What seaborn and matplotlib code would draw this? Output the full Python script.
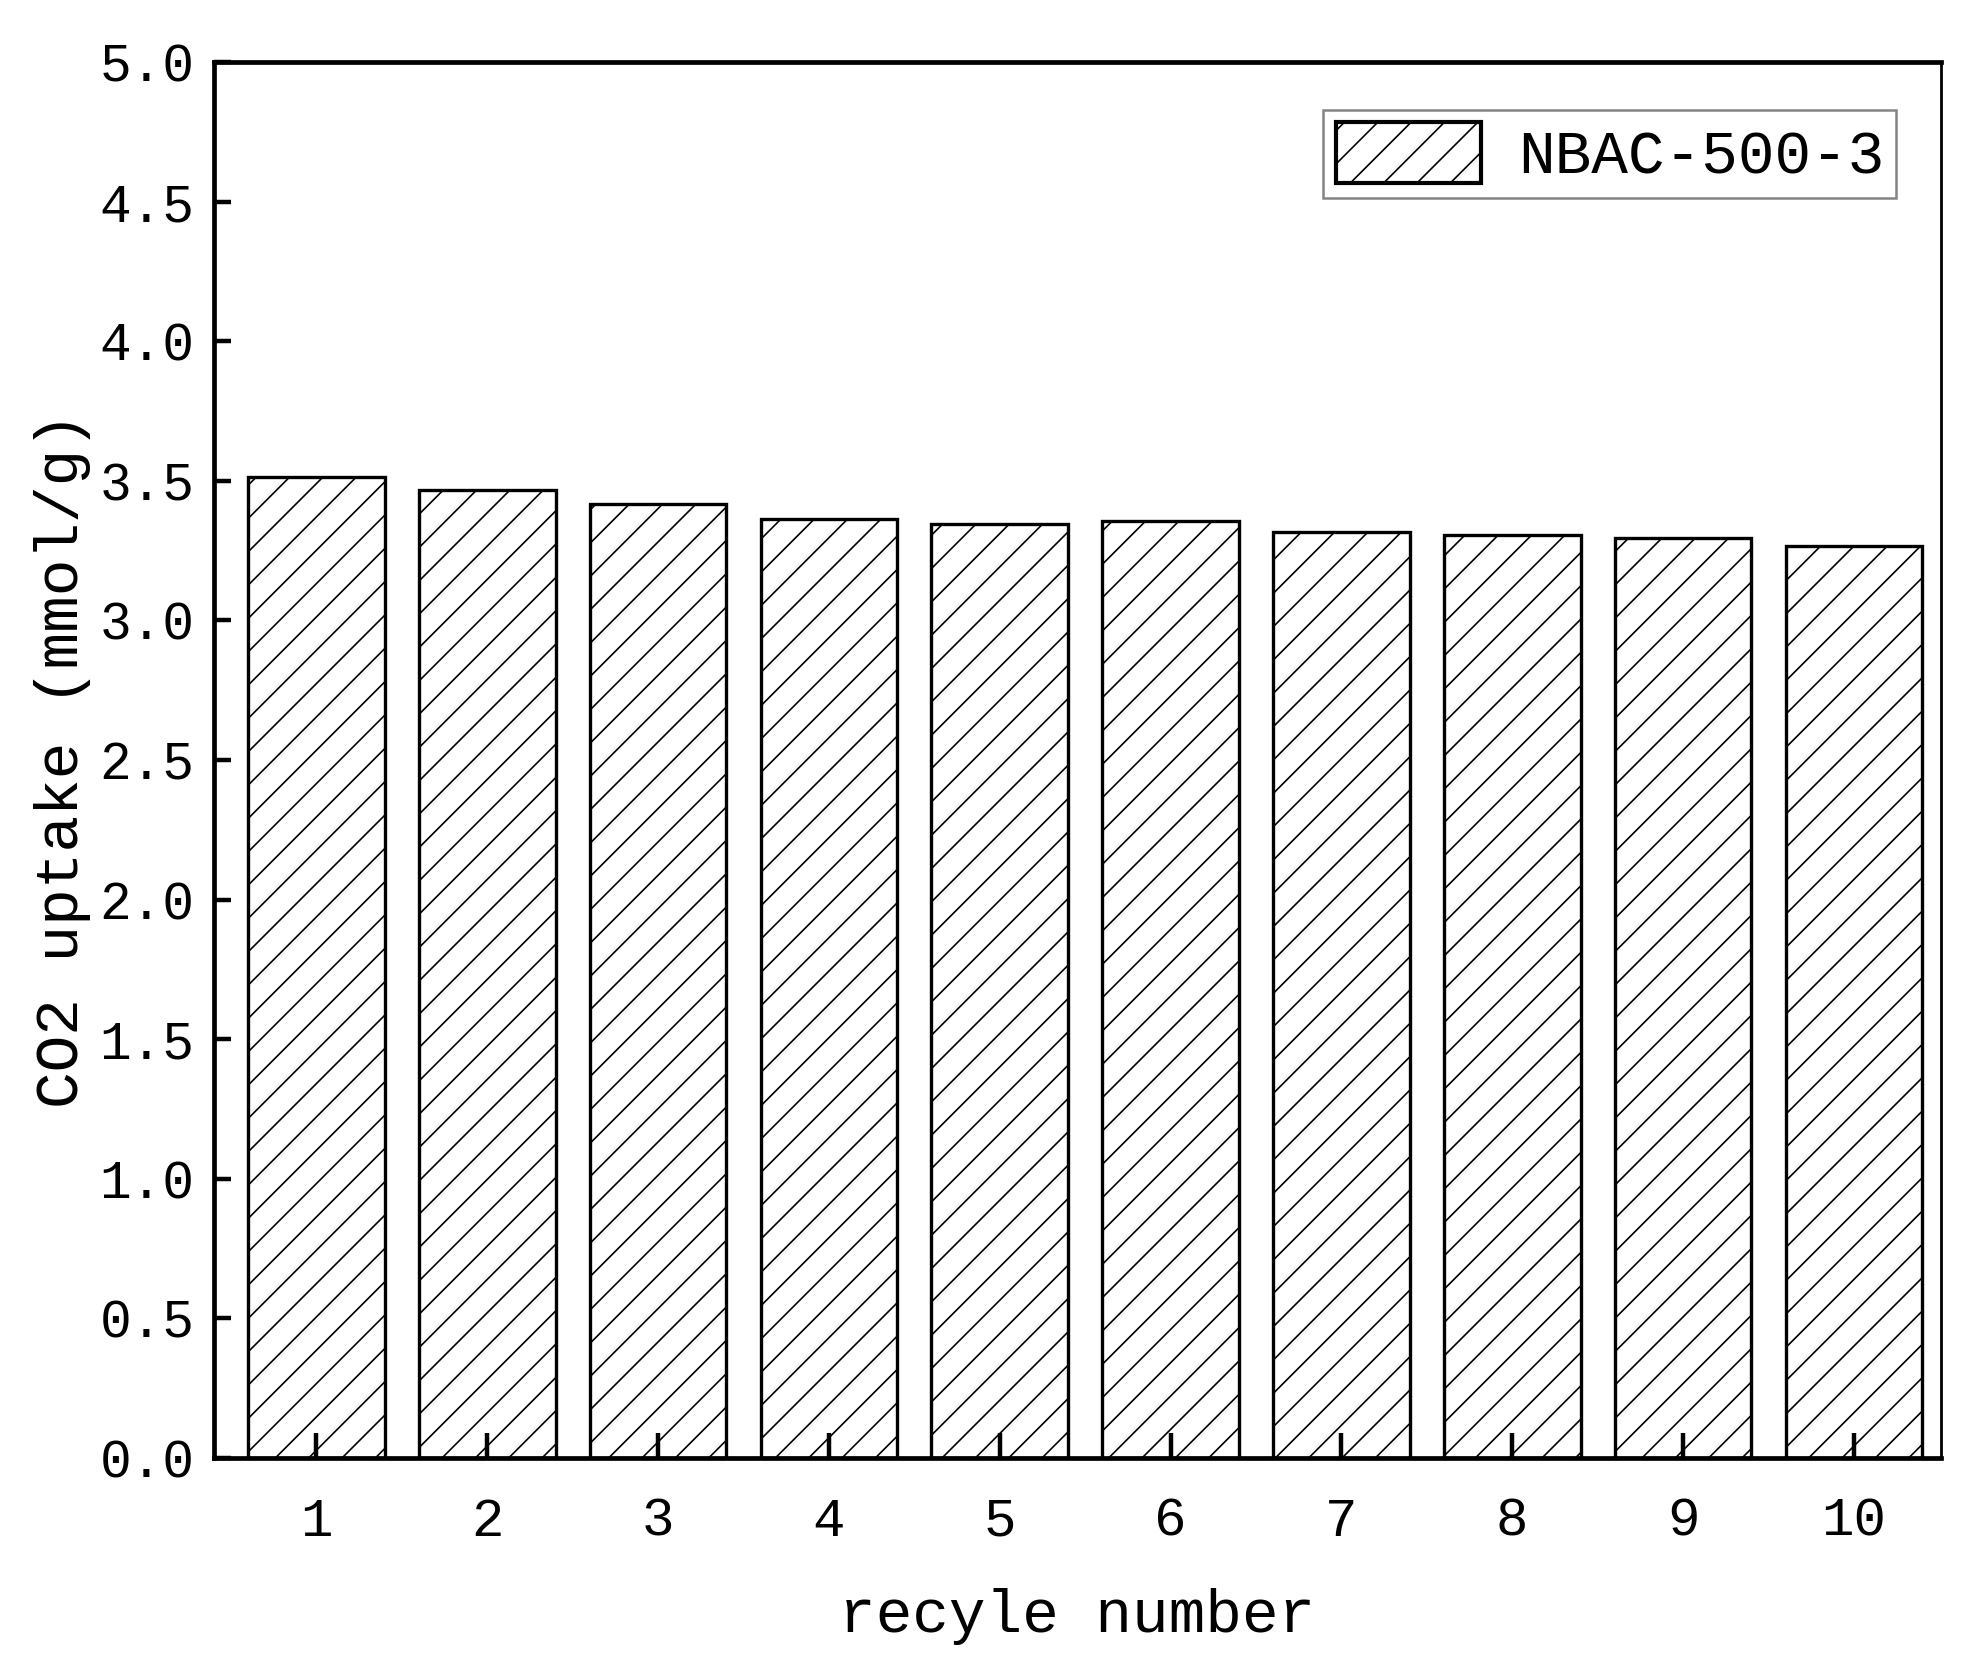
import numpy as np
import pandas as pd
import matplotlib
matplotlib.use('Agg')
import matplotlib.pyplot as plt
import seaborn as sns

# cycle data
cycles = ['1', '2', '3', '4', '5', '6', '7', '8', '9', '10']
uptake = [3.515, 3.467, 3.417, 3.363, 3.345, 3.355, 3.317, 3.305, 3.295, 3.266]
yticks = [0.0, 0.5, 1.0, 1.5, 2.0, 2.5, 3.0, 3.5, 4.0, 4.5, 5.0]
series_name = 'NBAC-500-3'

plt.rcParams['font.family'] = ['Liberation Mono', 'DejaVu Sans Mono']
plt.rcParams['hatch.linewidth'] = 0.6
plt.rcParams['hatch.color'] = 'black'

df = pd.DataFrame({'cycle': cycles, 'uptake': uptake})

fig = plt.figure(figsize=(9.885, 8.375), dpi=200)
ax = fig.add_axes([0.1082, 0.1296, 0.8736, 0.8334])

sns.barplot(data=df, x='cycle', y='uptake', color='white', saturation=1,
            edgecolor='black', linewidth=1.2, hatch='//', width=0.8,
            label=series_name, ax=ax)

ax.set_ylim(0, 5)
ax.set_xlim(-0.6, 9.51)
ax.set_yticks(yticks)
ax.set_yticklabels([f'{v:.1f}' for v in yticks])
ax.set_axisbelow(False)

ax.tick_params(axis='y', direction='in', length=6, width=1.6, pad=7, labelsize=19)
ax.tick_params(axis='x', direction='in', length=9, width=1.6, pad=14, labelsize=19.5)

for side in ['left', 'top', 'bottom']:
    ax.spines[side].set_linewidth(1.7)
ax.spines['right'].set_linewidth(1.0)

ax.set_xlabel('recyle number', fontsize=22, labelpad=15)
ax.set_ylabel('CO2 uptake (mmol/g)', fontsize=22, labelpad=3)

leg = ax.legend(loc='upper right', fontsize=22, frameon=True, fancybox=False,
                handlelength=2.38, handleheight=1.15, borderpad=0.2,
                handletextpad=0.6, borderaxespad=0,
                bbox_to_anchor=(0.974, 0.9656))
leg.get_frame().set_edgecolor('#666666')
leg.get_frame().set_linewidth(0.9)
leg.legend_handles[0].set_linewidth(1.5)

fig.savefig('out.png', dpi=200)
